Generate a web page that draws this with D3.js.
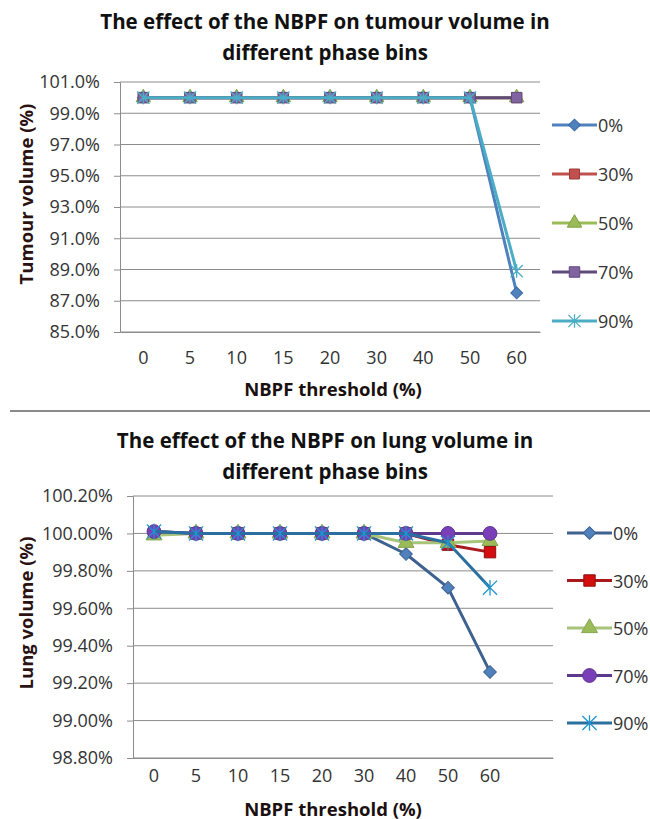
<!DOCTYPE html>
<html>
<head>
<meta charset="utf-8">
<script src="https://cdn.jsdelivr.net/npm/d3@7"></script>
<style>
  body { margin: 0; background: #fff; }
  text { font-family: "Open Sans", sans-serif; }
</style>
</head>
<body>
<svg id="fig" width="650" height="819"></svg>
<script>
// NBPF thresholds (%) on the category axis
const thresholds = ["0", "5", "10", "15", "20", "30", "40", "50", "60"];
// respiratory phase bins (legend entries)
const phaseBins = ["0%", "30%", "50%", "70%", "90%"];

// tumour volume (%) per phase bin
const tumourBin0  = [100, 100, 100, 100, 100, 100, 100, 100, 87.5];
const tumourBin30 = [100, 100, 100, 100, 100, 100, 100, 100, 100];
const tumourBin50 = [100, 100, 100, 100, 100, 100, 100, 100, 100];
const tumourBin70 = [100, 100, 100, 100, 100, 100, 100, 100, 100];
const tumourBin90 = [100, 100, 100, 100, 100, 100, 100, 100, 88.9];

// lung volume (%) per phase bin
const lungBin0  = [100.01, 100, 100, 100, 100, 100, 99.89, 99.71, 99.26];
const lungBin30 = [100, 100, 100, 100, 100, 100, 100, 99.94, 99.90];
const lungBin50 = [99.99, 100, 100, 100, 100, 100, 99.95, 99.95, 99.96];
const lungBin70 = [100.01, 100, 100, 100, 100, 100, 100, 100, 100];
const lungBin90 = [100.01, 100, 100, 100, 100, 100, 100, 99.95, 99.71];

// y-axis tick values
const tumourTicks = [85, 87, 89, 91, 93, 95, 97, 99, 101];
const lungTicks = [98.8, 99.0, 99.2, 99.4, 99.6, 99.8, 100.0, 100.2];

const svg = d3.select("#fig");

// Excel-style star marker: an X crossed by a vertical bar
const symbolStar = {
  draw(ctx, size) {
    const r = Math.sqrt(size) / 2;
    ctx.moveTo(-r, -r); ctx.lineTo(r, r);
    ctx.moveTo(-r, r); ctx.lineTo(r, -r);
    ctx.moveTo(0, -r * 1.1); ctx.lineTo(0, r * 1.1);
  }
};

function drawChart(cfg) {
  const g = svg.append("g");
  const x = d3.scaleBand().domain(cfg.categories).range([cfg.left, cfg.right]).padding(0);
  const y = d3.scaleLinear().domain(cfg.yDomain).range([cfg.bottom, cfg.top]);

  // titles
  cfg.title.forEach((t, i) => {
    g.append("text")
      .attr("x", 325).attr("y", cfg.titleY + i * cfg.titleGap)
      .attr("text-anchor", "middle").attr("dominant-baseline", "central")
      .style("font-size", "20.5px").style("font-weight", "bold").attr("fill", "#111")
      .text(t);
  });

  // horizontal gridlines
  g.append("g").selectAll("line").data(cfg.yTicks).join("line")
    .attr("x1", cfg.left).attr("x2", cfg.right)
    .attr("y1", d => y(d)).attr("y2", d => y(d))
    .attr("stroke", "#8c8c8c").attr("stroke-width", 1);

  // y axis
  const yAxis = g.append("g").attr("transform", `translate(${cfg.left},0)`)
    .call(d3.axisLeft(y).tickValues(cfg.yTicks).tickSize(6).tickPadding(cfg.yPad)
      .tickFormat(d => d.toFixed(cfg.decimals) + "%"));
  yAxis.select(".domain").attr("stroke", "#8c8c8c");
  yAxis.selectAll(".tick line").attr("stroke", "#8c8c8c");
  yAxis.selectAll("text").style("font-size", "18px").attr("fill", "#333").attr("font-family", null);

  // x axis
  const xAxis = g.append("g").attr("transform", `translate(0,${cfg.bottom})`)
    .call(d3.axisBottom(x).tickValues(thresholds).tickSize(0).tickPadding(cfg.xPad));
  xAxis.select(".domain").attr("stroke", "#8c8c8c");
  xAxis.selectAll("text").style("font-size", "18px").attr("fill", "#333").attr("font-family", null);

  // axis titles
  g.append("text")
    .attr("x", cfg.xTitleX).attr("y", cfg.xTitleY)
    .attr("text-anchor", "middle").attr("dominant-baseline", "central")
    .style("font-size", "18.5px").style("font-weight", "bold").attr("fill", "#1a1010")
    .text("NBPF threshold (%)");
  g.append("text")
    .attr("transform", `translate(${cfg.yTitleX},${cfg.yTitleY}) rotate(-90)`)
    .attr("text-anchor", "middle").attr("dominant-baseline", "central")
    .style("font-size", "18.5px").style("font-weight", "bold").attr("fill", "#2a1212")
    .text(cfg.yTitle);

  const cx = i => x(thresholds[i]) + x.bandwidth() / 2;
  const line = d3.line().x((d, i) => cx(i)).y(d => y(d));

  function marker(sel, s) {
    if (s.shape === "star") {
      sel.append("path").attr("d", d3.symbol(symbolStar, s.size)())
        .attr("fill", "none").attr("stroke", s.fill).attr("stroke-width", 1.3);
    } else if (s.shape === "diamond") {
      sel.append("path").attr("d", d3.symbol(d3.symbolSquare, s.size)())
        .attr("transform", "rotate(45)")
        .attr("fill", s.fill).attr("stroke", s.edge).attr("stroke-width", 1);
    } else {
      sel.append("path").attr("d", d3.symbol(s.shape, s.size)())
        .attr("fill", s.fill).attr("stroke", s.edge).attr("stroke-width", 1);
    }
  }

  // series: line and markers
  cfg.series.forEach(s => {
    g.append("path").datum(s.values)
      .attr("d", line).attr("fill", "none")
      .attr("stroke", s.color).attr("stroke-width", 3).attr("stroke-linejoin", "round");
    g.append("g").selectAll("g").data(s.values).join("g")
      .attr("transform", (d, i) => `translate(${cx(i)},${y(d)})`)
      .each(function () { marker(d3.select(this), s); });
  });

  // legend
  cfg.series.forEach((s, i) => {
    const ly = cfg.legendY + i * cfg.legendGap;
    const lg = g.append("g");
    lg.append("line").attr("x1", cfg.legendX).attr("x2", cfg.legendX + 45)
      .attr("y1", ly).attr("y2", ly).attr("stroke", s.color).attr("stroke-width", 3);
    const m = lg.append("g").attr("transform", `translate(${cfg.legendX + 22.5},${ly})`);
    marker(m, s);
    lg.append("text").attr("x", cfg.legendX + 46).attr("y", ly)
      .attr("dominant-baseline", "central")
      .style("font-size", "18px").attr("fill", "#333").text(phaseBins[i]);
  });
}

// tumour volume chart
drawChart({
  title: ["The effect of the NBPF on tumour volume in", "different phase bins"],
  titleY: 21, titleGap: 31,
  categories: thresholds,
  left: 120, right: 540, top: 82, bottom: 332,
  yDomain: [85, 101], yTicks: tumourTicks, decimals: 1, yPad: 14, xPad: 19,
  xTitleX: 333, xTitleY: 388,
  yTitle: "Tumour volume (%)", yTitleX: 25, yTitleY: 194,
  legendX: 552, legendY: 125, legendGap: 49,
  series: [
    { values: tumourBin0,  color: "#4f81bd", fill: "#4f81bd", edge: "#3a6aa5", shape: "diamond", size: 70 },
    { values: tumourBin30, color: "#c0504d", fill: "#c0504d", edge: "#a03a38", shape: d3.symbolSquare, size: 100 },
    { values: tumourBin50, color: "#9bbb59", fill: "#9bbb59", edge: "#7e9e40", shape: d3.symbolTriangle, size: 90 },
    { values: tumourBin70, color: "#604a7b", fill: "#8064a2", edge: "#604a7b", shape: d3.symbolSquare, size: 110 },
    { values: tumourBin90, color: "#4bacc6", fill: "#4bacc6", edge: "#4bacc6", shape: "star", size: 150 }
  ]
});

// divider between the two charts
svg.append("line").attr("x1", 10).attr("x2", 650).attr("y1", 411).attr("y2", 411)
  .attr("stroke", "#8a8a8a").attr("stroke-width", 2);

// lung volume chart
drawChart({
  title: ["The effect of the NBPF on lung volume in", "different phase bins"],
  titleY: 440, titleGap: 31,
  categories: thresholds.concat([""]),
  left: 133, right: 553, top: 496, bottom: 758,
  yDomain: [98.8, 100.2], yTicks: lungTicks, decimals: 2, yPad: 14, xPad: 11,
  xTitleX: 333, xTitleY: 808,
  yTitle: "Lung volume (%)", yTitleX: 25, yTitleY: 613,
  legendX: 567, legendY: 533, legendGap: 47.5,
  series: [
    { values: lungBin0,  color: "#3f6190", fill: "#4f81bd", edge: "#3f6190", shape: "diamond", size: 80 },
    { values: lungBin30, color: "#a8181c", fill: "#d40e0e", edge: "#8c1010", shape: d3.symbolSquare, size: 130 },
    { values: lungBin50, color: "#a6c47a", fill: "#9bbb59", edge: "#86a650", shape: d3.symbolTriangle, size: 110 },
    { values: lungBin70, color: "#5e3a8c", fill: "#7a3fb8", edge: "#5e3a8c", shape: d3.symbolCircle, size: 150 },
    { values: lungBin90, color: "#2b6fa0", fill: "#1f94d0", edge: "#1f94d0", shape: "star", size: 200 }
  ]
});
</script>
</body>
</html>
